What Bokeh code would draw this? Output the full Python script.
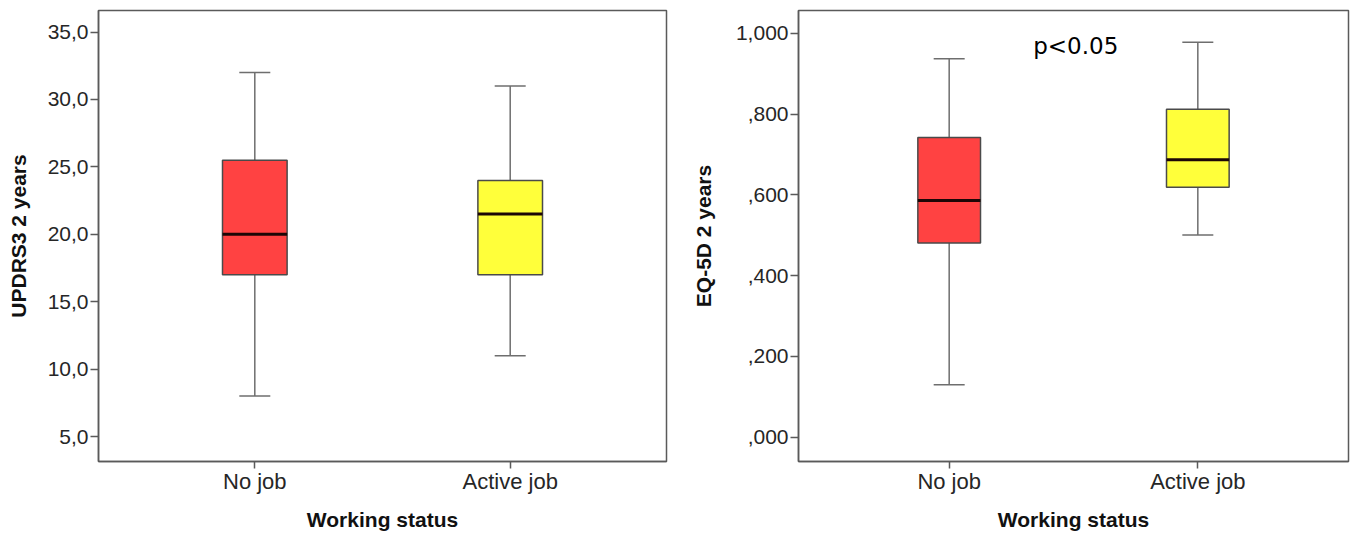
from bokeh.plotting import figure
from bokeh.layouts import row
from bokeh.models import (ColumnDataSource, FactorRange, FixedTicker, Whisker,
                          TeeHead, Range1d)
from bokeh.core.properties import value
from bokeh.transform import dodge
from bokeh.embed import file_html
from bokeh.resources import INLINE

# ---------------- data ----------------
categories = ["No job", "Active job"]
box_colors = ["#ff4242", "#ffff3a"]

updrs_lower = [8.0, 11.0]
updrs_q1 = [17.0, 17.0]
updrs_median = [20.0, 21.5]
updrs_q3 = [25.5, 24.0]
updrs_upper = [32.0, 31.0]

eq5d_lower = [0.130, 0.501]
eq5d_q1 = [0.481, 0.619]
eq5d_median = [0.586, 0.687]
eq5d_q3 = [0.742, 0.812]
eq5d_upper = [0.937, 0.978]

updrs_ticks = [5, 10, 15, 20, 25, 30, 35]
updrs_tick_labels = ["5,0", "10,0", "15,0", "20,0", "25,0", "30,0", "35,0"]
eq5d_ticks = [0.0, 0.2, 0.4, 0.6, 0.8, 1.0]
eq5d_tick_labels = [",000", ",200", ",400", ",600", ",800", "1,000"]

x_title = "Working status"
updrs_title = "UPDRS3 2 years"
eq5d_title = "EQ-5D 2 years"
p_text = "p<0.05"
p_text_y = 0.9685

FONT = "Liberation Sans"
FRAME = "#5a5a5a"
WHISK = "#6e6e6e"


def make_panel(lower, q1, med, q3, upper, ticks, tick_labels, ylab, yrange,
               width, min_left, min_right, label_standoff, pad, box_w):
    src = ColumnDataSource(dict(cat=categories, lower=lower, q1=q1, median=med,
                                q3=q3, upper=upper, color=box_colors))
    p = figure(x_range=FactorRange(factors=categories, range_padding=pad,
                                   range_padding_units="absolute"),
               y_range=Range1d(*yrange),
               width=width, height=534,
               min_border_left=min_left, min_border_right=min_right,
               min_border_top=10, min_border_bottom=73,
               output_backend="svg", toolbar_location=None)
    p.background_fill_color = "white"
    p.border_fill_color = "white"
    p.outline_line_color = FRAME
    p.outline_line_width = 1.5
    p.xgrid.grid_line_color = None
    p.ygrid.grid_line_color = None

    w = Whisker(base="cat", upper="upper", lower="lower", source=src,
                line_color=WHISK, line_width=1.5,
                upper_head=TeeHead(size=31, line_color=WHISK, line_width=1.5),
                lower_head=TeeHead(size=31, line_color=WHISK, line_width=1.5))
    p.add_layout(w)

    p.vbar(x="cat", width=box_w, top="q3", bottom="q1", source=src,
           fill_color="color", line_color="#4a4a4a", line_width=1.5)
    p.segment(x0=dodge("cat", -box_w / 2, range=p.x_range), y0="median",
              x1=dodge("cat", box_w / 2, range=p.x_range), y1="median",
              source=src, line_color="#1c0606", line_width=3)

    for ax in (p.xaxis[0], p.yaxis[0]):
        ax.axis_line_color = FRAME
        ax.axis_line_width = 1.5
        ax.major_tick_line_color = FRAME
        ax.major_tick_line_width = 1.5
        ax.minor_tick_line_color = None
        ax.major_tick_in = 0
        ax.major_label_text_font = FONT
        ax.major_label_text_color = "#262626"
        ax.axis_label_text_font = FONT
        ax.axis_label_text_font_style = "bold"
        ax.axis_label_text_font_size = "21px"
        ax.axis_label_text_color = "#111111"

    xa = p.xaxis[0]
    xa.major_tick_out = 7
    xa.major_label_text_font_size = "22px"
    xa.major_label_standoff = 0
    xa.axis_label = x_title
    xa.axis_label_standoff = 11

    ya = p.yaxis[0]
    ya.ticker = FixedTicker(ticks=ticks)
    ya.major_label_overrides = {t: l for t, l in zip(ticks, tick_labels)}
    ya.major_tick_out = 8
    ya.major_label_text_font_size = "21px"
    ya.major_label_standoff = 2
    ya.axis_label = ylab
    ya.axis_label_standoff = label_standoff
    return p


p1 = make_panel(updrs_lower, updrs_q1, updrs_median, updrs_q3, updrs_upper,
                updrs_ticks, updrs_tick_labels, updrs_title, (3.15, 36.6),
                680, 98, 14, 15, 0.112, 0.253)
p2 = make_panel(eq5d_lower, eq5d_q1, eq5d_median, eq5d_q3, eq5d_upper,
                eq5d_ticks, eq5d_tick_labels, eq5d_title, (-0.060, 1.0565),
                674, 118, 6, 18, 0.106, 0.252)

p2.text(x=[categories[0]], y=[p_text_y], text=[p_text], x_offset=84,
        text_font=value("DejaVu Sans"), text_font_size="23px",
        text_color="#000000", text_baseline="alphabetic")

layout = row(p1, p2)
open("out.html", "w").write(file_html(layout, INLINE))
